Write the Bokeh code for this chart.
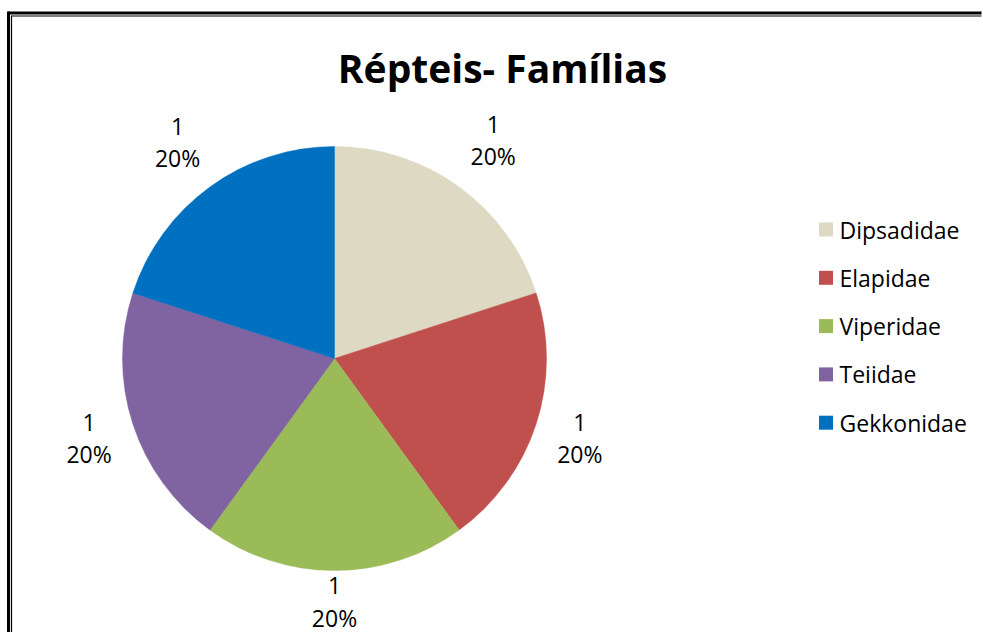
import numpy as np
from bokeh.plotting import figure
from bokeh.models import Range1d, ColumnDataSource
from bokeh.core.properties import value
from bokeh.embed import file_html
from bokeh.resources import INLINE

# ---- data ----
title = "Répteis- Famílias"
families = ["Dipsadidae", "Elapidae", "Viperidae", "Teiidae", "Gekkonidae"]
counts = [1, 1, 1, 1, 1]
colors = ["#DDD9C3", "#C0504D", "#9BBB59", "#8064A2", "#0070C0"]

# ---- layout (screen pixels, y measured from top) ----
W, H = 983, 632
cx, cy_s, R = 334, 358, 212
label_r = [270, 258, 243, 258, 267]

def sy(y):
    return H - y

counts_arr = np.array(counts, dtype=float)
frac = counts_arr / counts_arr.sum()
cum = np.concatenate([[0.0], np.cumsum(frac)])
# clockwise from 12 o'clock
start_deg = 90 - 360 * cum[1:]
end_deg = 90 - 360 * cum[:-1]
mid_cw = 360 * (cum[:-1] + cum[1:]) / 2  # clockwise from top

p = figure(width=W, height=H, output_backend="svg", toolbar_location=None,
           x_range=Range1d(0, W), y_range=Range1d(0, H),
           x_axis_location=None, y_axis_location=None, min_border=0)
p.grid.visible = False
p.outline_line_color = None
p.background_fill_color = "white"
p.border_fill_color = "white"

src = ColumnDataSource(dict(start=np.radians(start_deg), end=np.radians(end_deg),
                            color=colors, fam=families))
p.wedge(x=cx, y=sy(cy_s), radius=R, start_angle="start", end_angle="end",
        fill_color="color", line_color="color", line_width=0.5, source=src)

# data labels
th = np.radians(mid_cw)
lx = cx + np.array(label_r) * np.sin(th)
ly = sy(cy_s) + np.array(label_r) * np.cos(th)
pct = [f"{round(f*100)}%" for f in frac]
p.text(x=lx, y=ly + 16, text=[str(c) for c in counts], text_align="center",
       text_baseline="middle", text_font=value("Open Sans"), text_font_size="23px",
       text_color="black")
p.text(x=lx, y=ly - 16, text=pct, text_align="center",
       text_baseline="middle", text_font=value("Open Sans"), text_font_size="23px",
       text_color="black")

# title
p.text(x=[502], y=[sy(67)], text=[title], text_align="center", text_baseline="middle",
       text_font=value("Open Sans"), text_font_style="bold", text_font_size="39px",
       text_color="black")

# legend
leg_y0, leg_dy = 229, 48.3
ly_leg = [sy(leg_y0 + i * leg_dy) for i in range(len(families))]
p.rect(x=[825.5] * len(families), y=ly_leg, width=14, height=14,
       fill_color=colors, line_color=None)
p.text(x=[839] * len(families), y=ly_leg, text=families, text_align="left",
       text_baseline="middle", text_font=value("Open Sans"), text_font_size="23px",
       text_color="black")

# double border (right / bottom edges lie outside the window)
p.segment(x0=[8, 8, 11, 11], y0=[0, sy(12.5), 0, sy(15.5)],
          x1=[8, W - 2, 11, W - 2], y1=[sy(11), sy(12.5), sy(14.9), sy(15.5)],
          line_color="black", line_width=[3, 3, 1.2, 1.2])

open("out.html", "w").write(file_html(p, INLINE))
